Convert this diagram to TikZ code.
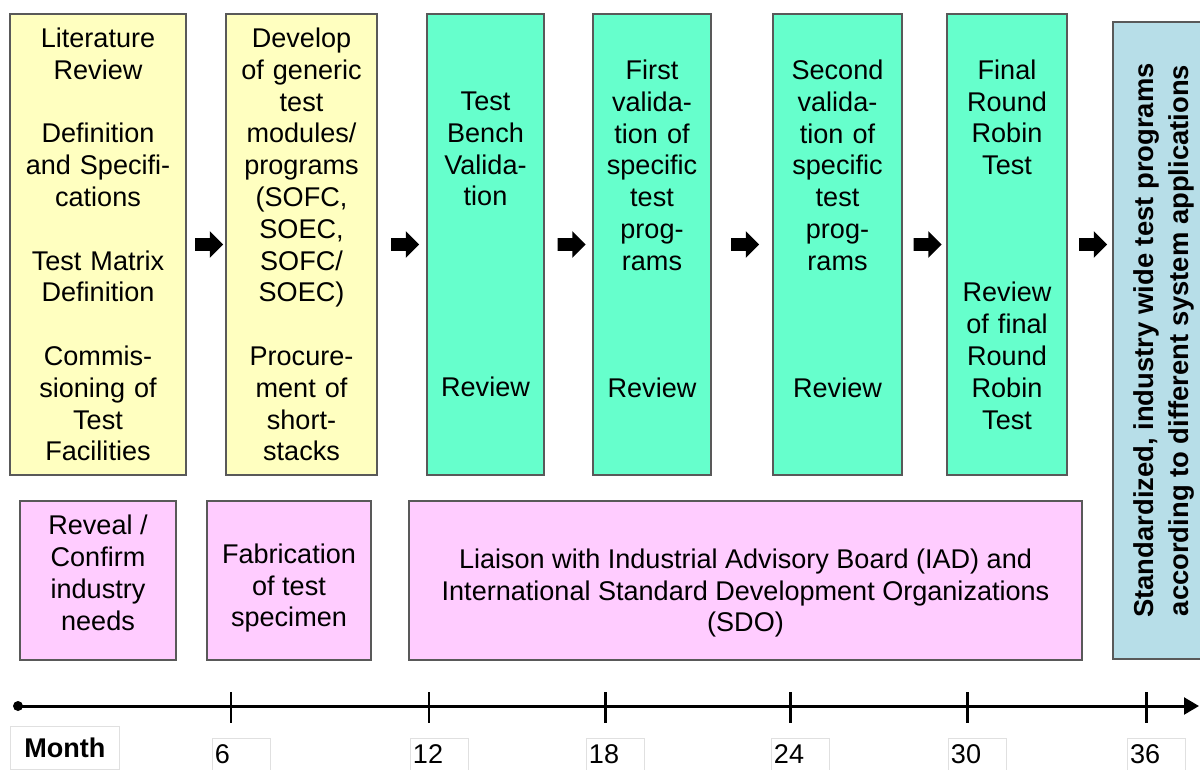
\documentclass[tikz,border=0pt]{standalone}
\usepackage{fontspec}
\setmainfont{Liberation Sans}
\usetikzlibrary{shapes.arrows,arrows.meta,calc}

\definecolor{phaseyellow}{HTML}{FFFFC0}
\definecolor{phasegreen}{HTML}{66FFCC}
\definecolor{phasepink}{HTML}{FFCCFF}
\definecolor{phaseblue}{HTML}{B7DEE8}
\definecolor{boxline}{HTML}{595959}

\tikzset{
  boxfont/.style={font=\fontsize{15.4}{18.1}\selectfont},
  phase/.style={draw=boxline, line width=0.7pt, align=center, inner sep=0pt, boxfont},
  ybox/.style={phase, fill=phaseyellow, minimum height=9.22cm},
  gbox/.style={phase, fill=phasegreen, minimum height=9.22cm},
  pbox/.style={phase, fill=phasepink, minimum height=3.18cm},
  ptext/.style={align=center, boxfont},
  flowarrow/.style={single arrow, fill=black, draw=none, inner xsep=0pt, inner ysep=0.12cm,
    single arrow head extend=0.14cm, minimum height=0.56cm},
  monthbox/.style={draw=black!12, anchor=north west, minimum width=1.14cm, minimum height=0.64cm,
    text width=1.05cm, align=left, inner xsep=1.5pt, inner ysep=0pt, boxfont},
}

\begin{document}
\begin{tikzpicture}[x=0.02cm,y=-0.02cm]
    \useasboundingbox (0,0) rectangle (1200,769);
    % Work phases
    \node[ybox, minimum width=3.52cm, text width=3.3cm] (prep) at (98,244.5)
      {Literature\\Review\\[\baselineskip]Definition\\and Specifi-\\cations\\[\baselineskip]Test Matrix\\Definition\\[\baselineskip]Commis-\\sioning of\\Test\\Facilities};
    \node[ybox, minimum width=3.02cm, text width=2.9cm] (modules) at (301.5,244.5)
      {Develop\\of generic\\test\\modules/\\programs\\(SOFC,\\SOEC,\\SOFC/\\SOEC)\\[\baselineskip]Procure-\\ment of\\short-\\stacks};
    \node[gbox, minimum width=2.34cm, text width=2.2cm] (bench) at (485.5,244.5)
      {Test\\Bench\\Valida-\\tion\\[5\baselineskip]Review};
    \node[gbox, minimum width=2.36cm, text width=2.2cm] (first) at (652,244.5)
      {First\\valida-\\tion of\\specific\\test\\prog-\\rams\\[3\baselineskip]Review\\\mbox{}};
    \node[gbox, minimum width=2.58cm, text width=2.4cm] (second) at (837.5,244.5)
      {Second\\valida-\\tion of\\specific\\test\\prog-\\rams\\[3\baselineskip]Review\\\mbox{}};
    \node[gbox, minimum width=2.4cm, text width=2.25cm] (robin) at (1007,244.5)
      {Final\\Round\\Robin\\Test\\[3\baselineskip]Review\\of final\\Round\\Robin\\Test};
    \node[phase, fill=phaseblue, rotate=90, minimum width=12.74cm, minimum height=2.04cm,
      font=\bfseries\fontsize{15.6}{19.8}\selectfont] (result) at (1164,340.5)
      {Standardized, industry wide test programs\\according to different system applications};
    % Supporting tasks
    \node[pbox, minimum width=3.12cm] (needs) at (98,580.5) {};
    \node[ptext] (needstxt) at (98,573) {Reveal /\\Confirm\\industry\\needs};
    \node[pbox, minimum width=3.28cm] (specimen) at (289,580.5) {};
    \node[ptext] (specimentxt) at (289,588) {Fabrication\\of test\\specimen};
    \node[pbox, minimum width=13.46cm] (liaison) at (745.5,580.5) {};
    \node[ptext] (liaisontxt) at (745.5,593)
      {Liaison with Industrial Advisory Board (IAD) and\\International Standard Development Organizations\\(SDO)};
    % Flow arrows
    \node[flowarrow] (a1) at ($(prep.east)!0.5!(modules.west)$) {};
    \node[flowarrow] (a2) at ($(modules.east)!0.5!(bench.west)$) {};
    \node[flowarrow] (a3) at ($(bench.east)!0.5!(first.west)$) {};
    \node[flowarrow] (a4) at ($(first.east)!0.5!(second.west)$) {};
    \node[flowarrow] (a5) at ($(second.east)!0.5!(robin.west)$) {};
    \node[flowarrow] (a6) at ($(robin.east)!0.5!(robin.east -| result.north)$) {};
    % Time axis
    \coordinate (t0) at (18,706);
    \coordinate (t1) at (1199,706);
    \fill (t0) circle (0.1cm);
    \draw[line width=1.7pt, -{Triangle[length=8.5pt,width=9.5pt]}] (t0) -- (t1);
    \node[draw=black!12, anchor=north west, minimum width=2.18cm, minimum height=0.86cm,
      inner sep=0pt, font=\bfseries\fontsize{15.4}{18.1}\selectfont] (month) at (10,726) {Month};
    \foreach \x/\m in {231/6, 429/12, 605/18, 790/24, 967/30, 1146/36} {
      \draw[line width=1.7pt] (\x,692) -- (\x,723);
      \node[monthbox] (m\m) at (\x-19,738) {\m};
    }
  \end{tikzpicture}
\end{document}
